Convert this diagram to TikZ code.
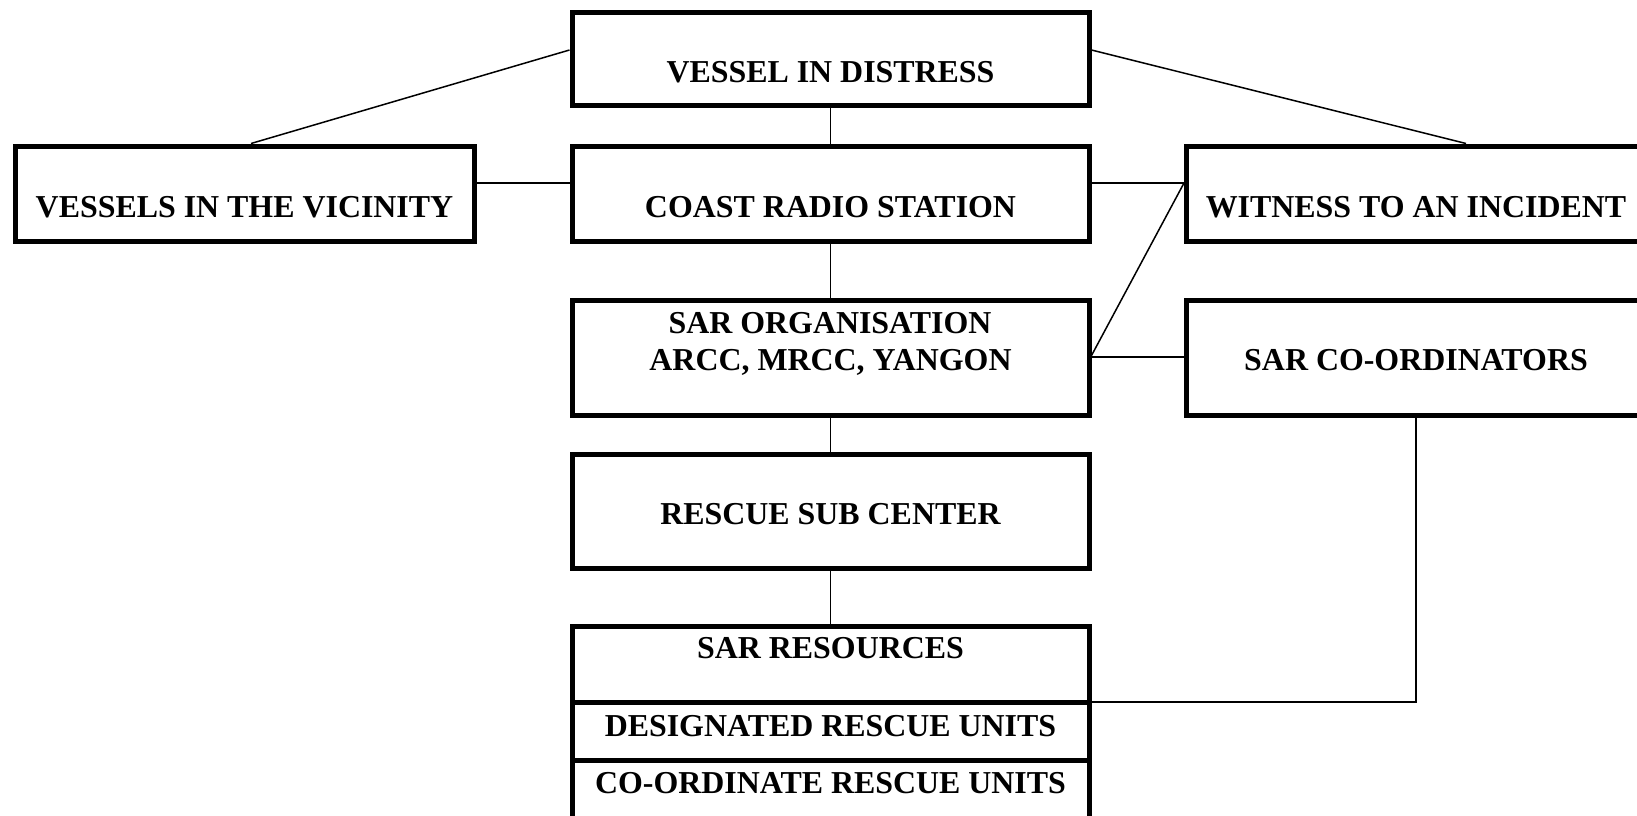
\documentclass[tikz,border=0pt]{standalone}
\usepackage{fontspec}
\setmainfont{Liberation Serif}
\begin{document}
\begin{tikzpicture}[x=1pt,y=-1pt,
  box/.style={draw, line width=5pt, rectangle, inner sep=0pt},
  wide/.style={minimum width=517pt},
  side/.style={minimum width=459pt},
  conn/.style={line width=1.5pt},
  lbl/.style={inner sep=0pt, font=\fontsize{31.9}{37}\selectfont\bfseries, anchor=base, align=center}]
\useasboundingbox (0,0) rectangle (1637,815);
% boxes
\node[box, wide, minimum height=93pt] (vessel) at (830.5,58.5) {};
\node[box, side, minimum height=95pt] (vicinity) at (244.5,193.5) {};
\node[box, wide, minimum height=95pt] (coast) at (830.5,193.5) {};
\node[box, side, minimum height=95pt] (witness) at (1416,193.5) {};
\node[box, wide, minimum height=115pt] (sarorg) at (830.5,357.5) {};
\node[box, side, minimum height=115pt] (coord) at (1416,357.5) {};
\node[box, wide, minimum height=114pt] (rsc) at (830.5,511) {};
\node[box, wide, minimum height=76pt] (sarres) at (830.5,664) {};
\node[box, wide, minimum height=58pt] (desig) at (830.5,731) {};
\node[box, wide, minimum height=72pt] (cores) at (830.5,796) {};
% labels
\node[lbl] (tvessel) at (830.5,82) {VESSEL IN DISTRESS};
\node[lbl] (tvicinity) at (244.5,217) {VESSELS IN THE VICINITY};
\node[lbl] (tcoast) at (830.5,217) {COAST RADIO STATION};
\node[lbl] (twitness) at (1416,217) {WITNESS TO AN INCIDENT};
\node[lbl] (tsarorg1) at (830,333) {SAR ORGANISATION};
\node[lbl] (tsarorg2) at (830.5,370) {ARCC, MRCC, YANGON};
\node[lbl] (tcoord) at (1416,370) {SAR CO-ORDINATORS};
\node[lbl] (trsc) at (830.5,524) {RESCUE SUB CENTER};
\node[lbl] (tsarres) at (830.5,658) {SAR RESOURCES};
\node[lbl] (tdesig) at (830.5,736) {DESIGNATED RESCUE UNITS};
\node[lbl] (tcores) at (830.5,793) {CO-ORDINATE RESCUE UNITS};
% connectors
\draw[conn] ([yshift=8.5pt]vessel.west) -- ([xshift=6.5pt]vicinity.north);
\draw[conn] ([yshift=8.5pt]vessel.east) -- ([xshift=50pt]witness.north);
\draw[conn] (vessel.south) -- (coast.north);
\draw[conn] ([yshift=10.5pt]vicinity.east) -- ([yshift=10.5pt]coast.west);
\draw[conn] ([yshift=10.5pt]coast.east) -- ([yshift=10.5pt]witness.west);
\draw[conn] (coast.south) -- (sarorg.north);
\draw[conn] ([yshift=2pt]sarorg.east) -- ([yshift=10.5pt]witness.west);
\draw[conn] ([yshift=0.5pt]sarorg.east) -- ([yshift=0.5pt]coord.west);
\draw[conn] (sarorg.south) -- (rsc.north);
\draw[conn] (rsc.south) -- (sarres.north);
\draw[conn] ([yshift=2.5pt]sarres.south east) -| (coord.south);
\end{tikzpicture}
\end{document}
